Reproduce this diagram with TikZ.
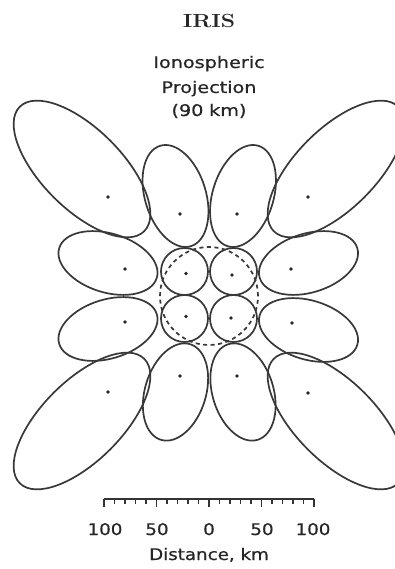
\documentclass[tikz,border=0pt]{standalone}
\usepackage{fontspec}
\newfontfamily\lblfont{DejaVu Sans}[FakeBold=0.7]
\begin{document}
\begin{tikzpicture}[x=1pt,y=1pt,
  lobe/.style={draw=black!78, line width=1.7pt},
  dashring/.style={draw=black!78, line width=1.7pt, dash pattern=on 4pt off 3.5pt},
  ctr/.style={circle, fill=black!85, inner sep=0pt, minimum size=3.8pt},
  lbl/.style={font=\lblfont\fontsize{16}{18}\selectfont, text=black!85, inner sep=0pt, anchor=base, xscale=1.2},
  ttl/.style={font=\bfseries\fontsize{19}{21}\selectfont, text=black!85, inner sep=0pt, anchor=base, xscale=1.2},
  tick/.style={draw=black!80, line width=1.4pt}
]
\useasboundingbox (-209,-274) rectangle (186,295);
\clip (-209,-274) rectangle (186,295);

% corner lobes
\draw[lobe, rotate around={135:(-127,126)}] (-127,126) ellipse [x radius=88, y radius=40];
\draw[lobe, rotate around={45:(127,126)}] (127,126) ellipse [x radius=88, y radius=40];
\draw[lobe, rotate around={45:(-127,-126)}] (-127,-126) ellipse [x radius=88, y radius=40];
\draw[lobe, rotate around={135:(127,-126)}] (127,-126) ellipse [x radius=88, y radius=40];

% top / bottom lobes
\draw[lobe, rotate around={107:(-33.5,99)}] (-33.5,99) ellipse [x radius=52.5, y radius=30.5];
\draw[lobe, rotate around={73:(34,99)}] (34,99) ellipse [x radius=52.5, y radius=30.5];
\draw[lobe, rotate around={73:(-33.5,-97)}] (-33.5,-97) ellipse [x radius=50, y radius=30.5];
\draw[lobe, rotate around={107:(34,-97)}] (34,-97) ellipse [x radius=50, y radius=30.5];

% side lobes
\draw[lobe, rotate around={-17:(-101,32)}] (-101,32) ellipse [x radius=51, y radius=29.5];
\draw[lobe, rotate around={17:(-101,-34)}] (-101,-34) ellipse [x radius=51, y radius=29.5];
\draw[lobe, rotate around={17:(99.5,32)}] (99.5,32) ellipse [x radius=51, y radius=29.5];
\draw[lobe, rotate around={-17:(99.5,-35)}] (99.5,-35) ellipse [x radius=51, y radius=29.5];

% inner circles
\draw[lobe] (-24.5,23.5) circle [radius=23.5];
\draw[lobe] (24.5,23.5) circle [radius=23.5];
\draw[lobe] (-24.5,-23.5) circle [radius=23.5];
\draw[lobe] (24.5,-23.5) circle [radius=23.5];

% dashed ring
\draw[dashring] (0,-1) circle [radius=49];

% beam centres
\node[ctr] (d1) at (-101,98) {};
\node[ctr] (d2) at (99,98) {};
\node[ctr] (d3) at (-101,-97) {};
\node[ctr] (d4) at (99,-98) {};
\node[ctr] (d5) at (-29,81) {};
\node[ctr] (d6) at (28,81) {};
\node[ctr] (d7) at (-29,-81) {};
\node[ctr] (d8) at (28,-81) {};
\node[ctr] (d9) at (-84,26) {};
\node[ctr] (d10) at (-84,-27) {};
\node[ctr] (d11) at (82,26) {};
\node[ctr] (d12) at (83,-28) {};
\node[ctr] (d13) at (-23,21.5) {};
\node[ctr] (d14) at (23,20) {};
\node[ctr] (d15) at (-23,-21.5) {};
\node[ctr] (d16) at (22,-23) {};

% titles
\node[ttl] (title) at (0,267) {IRIS};
\node[lbl] (l1) at (0,227) {Ionospheric};
\node[lbl] (l2) at (0,202) {Projection};
\node[lbl] (l3) at (0,179) {(90\hspace{0.3em}km)};

% scale bar
\coordinate (sL) at (-105,-204);
\coordinate (sR) at (105,-204);
\draw[tick] (sL) -- (sR);
\foreach \k in {-10,...,10}{
  \pgfmathsetmacro{\len}{ifthenelse(mod(abs(\k),5)==0,8,5)}
  \draw[tick] (\k*10.5,-204) -- ++(0,-\len);
}
\node[lbl, xscale=0.95] (s1) at (-104,-240) {100};
\node[lbl, xscale=0.95] (s2) at (-52,-240) {50};
\node[lbl, xscale=0.95] (s3) at (0,-240) {0};
\node[lbl, xscale=0.95] (s4) at (53,-240) {50};
\node[lbl, xscale=0.95] (s5) at (104,-240) {100};
\node[lbl, xscale=0.95] (cap) at (0,-265) {Distance, km};
\end{tikzpicture}
\end{document}
